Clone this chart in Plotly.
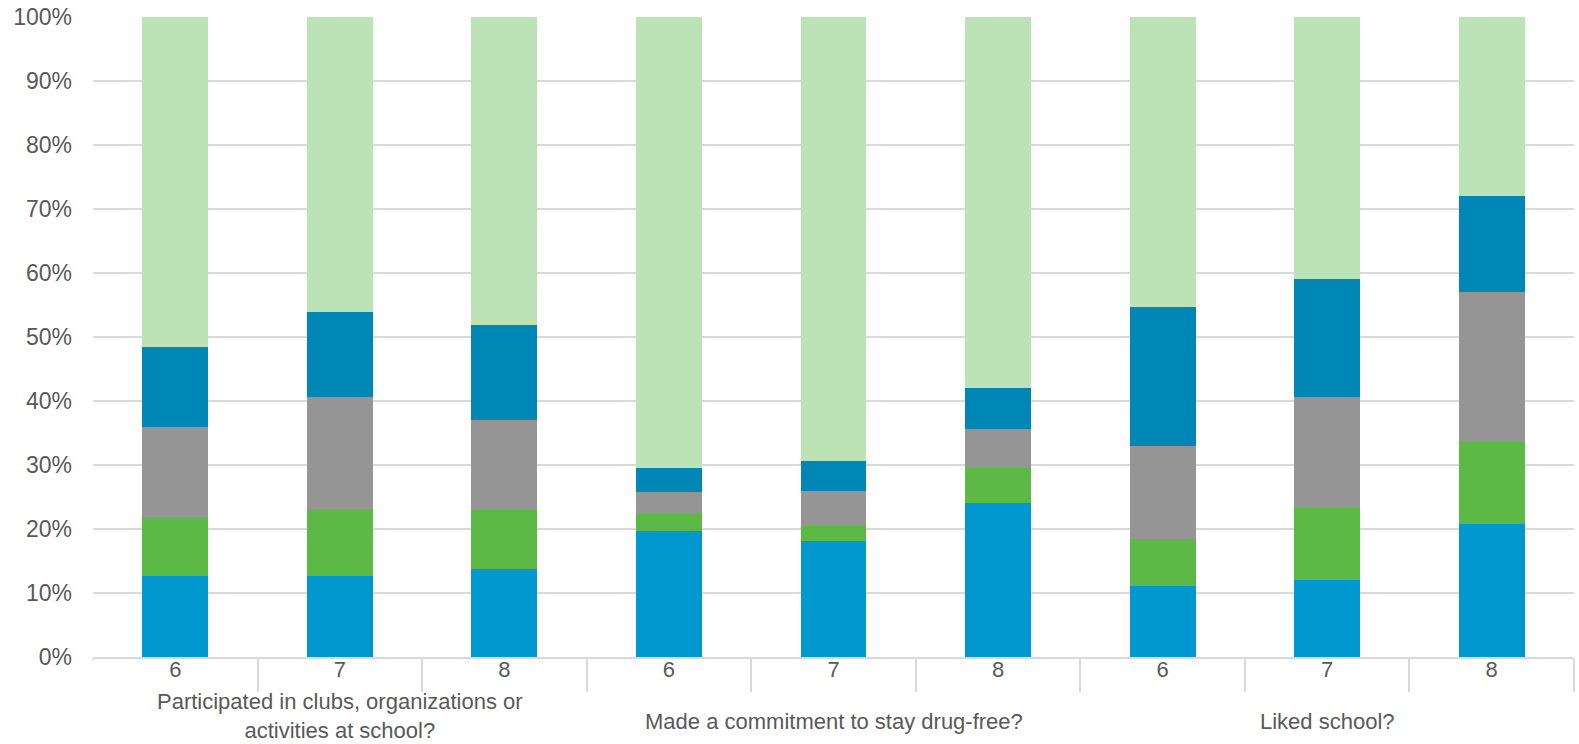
import plotly.graph_objects as go

groups = [
    "Participated in clubs, organizations or<br>activities at school?",
    "Made a commitment to stay drug-free?",
    "Liked school?",
]
grades = ["6", "7", "8"]

series_names = ["Response 1", "Response 2", "Response 3", "Response 4", "Response 5"]
colors = ["#0098CE", "#5CB946", "#959595", "#0087B6", "#BCE3B5"]

# percentages
s1 = [12.6, 12.6, 13.7, 19.7, 18.1, 24.1, 11.1, 12.0, 20.8]
s2 = [9.2, 10.5, 9.2, 2.7, 2.4, 5.5, 7.3, 11.3, 12.8]
s3 = [14.2, 17.5, 14.2, 3.4, 5.5, 6.1, 14.6, 17.4, 23.5]
s4 = [12.5, 13.3, 14.7, 3.8, 4.7, 6.3, 21.7, 18.3, 14.9]
s5 = [51.5, 46.1, 48.2, 70.4, 69.3, 58.0, 45.3, 41.0, 28.0]
series = [s1, s2, s3, s4, s5]

y_ticks = [0, 10, 20, 30, 40, 50, 60, 70, 80, 90, 100]

# unique category keys, shown with grade labels
cats = [f"{gi}|{gr}" for gi in range(len(groups)) for gr in grades]
cat_labels = [gr for _ in groups for gr in grades]

fig = go.Figure()
for name, vals, col in zip(series_names, series, colors):
    fig.add_trace(go.Bar(
        x=cats, y=vals, name=name,
        marker=dict(color=col, line=dict(width=0)),
    ))

font_color = "#595959"
font_family = "Liberation Sans, Arial, sans-serif"
fig.update_layout(
    barmode="stack",
    bargap=0.6,
    width=1579, height=744,
    margin=dict(l=93, r=5, t=17, b=87, autoexpand=False),
    paper_bgcolor="white", plot_bgcolor="white",
    showlegend=False,
    font=dict(family=font_family, size=22, color=font_color),
)
fig.update_yaxes(
    range=[0, 100], tickvals=y_ticks, ticktext=[f"{t}%" for t in y_ticks],
    showgrid=True, gridcolor="#D9D9D9", gridwidth=1.5,
    zeroline=False, showline=False, ticks="", ticklabelstandoff=20,
    ticklabeloverflow="allow",
    tickfont=dict(size=23, color=font_color), automargin=False,
)
fig.update_xaxes(
    type="category", categoryorder="array", categoryarray=cats,
    tickvals=cats, ticktext=cat_labels,
    showline=True, linecolor="#D9D9D9", linewidth=1.5,
    ticks="outside", tickson="boundaries", ticklen=33, tickcolor="#D9D9D9", tickwidth=1.5,
    ticklabelstandoff=-8,
    tickfont=dict(size=22, color=font_color), automargin=False,
)

# the reference has no boundary tick at the left end of the axis
fig.add_shape(
    type="line", xref="paper", yref="paper", x0=0, x1=0, y0=-0.005, y1=-0.06,
    line=dict(color="white", width=3), layer="above",
)

# group labels under the middle grade of each group
for gi, g in enumerate(groups):
    two_line = "<br>" in g
    fig.add_annotation(
        x=cats[gi * 3 + 1], xref="x",
        y=-0.092 if two_line else -0.101, yref="paper",
        yanchor="middle", xanchor="center",
        text=g, showarrow=False, align="center",
        font=dict(family=font_family, size=22, color=font_color),
    )

# remove the browser's default page margin so the figure fills the window
fig.write_html(
    "out.html",
    config={"displayModeBar": False},
    post_script="document.body.style.margin='0';document.body.style.overflow='hidden';",
)
